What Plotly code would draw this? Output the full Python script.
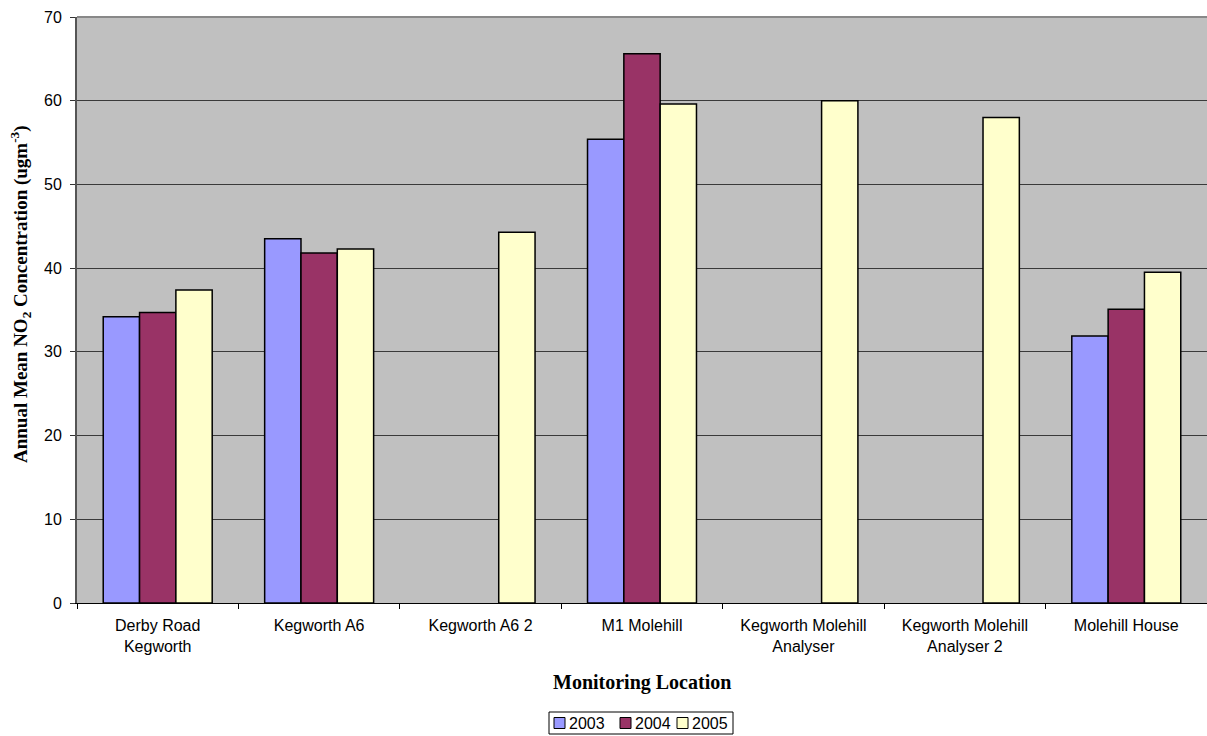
import plotly.graph_objects as go

locations = [
    "Derby Road<br>Kegworth",
    "Kegworth A6",
    "Kegworth A6 2",
    "M1 Molehill",
    "Kegworth Molehill<br>Analyser",
    "Kegworth Molehill<br>Analyser 2",
    "Molehill House",
]
no2_2003 = [34.2, 43.5, None, 55.4, None, None, 31.9]
no2_2004 = [34.7, 41.8, None, 65.6, None, None, 35.1]
no2_2005 = [37.4, 42.3, 44.3, 59.6, 60.0, 58.0, 39.5]
years = ["2003", "2004", "2005"]
colors = ["#9999FF", "#993366", "#FFFFCC"]
y_ticks = [0, 10, 20, 30, 40, 50, 60, 70]

W, H = 1207, 736
ML, MR, MT, MB = 77, 0, 17, 133
PW, PH = W - ML - MR, H - MT - MB


def px(x):
    # pixel column -> paper x
    return (x - ML) / PW


def py(y):
    # pixel row -> paper y
    return (H - MB - y) / PH


fig = go.Figure()
for name, vals, col in zip(years, [no2_2003, no2_2004, no2_2005], colors):
    fig.add_trace(go.Bar(
        x=locations, y=vals, name=name,
        marker=dict(color=col, line=dict(color="#000000", width=1.5)),
    ))

fig.update_layout(
    width=W, height=H,
    margin=dict(l=ML, r=MR, t=MT, b=MB),
    paper_bgcolor="white",
    plot_bgcolor="#C0C0C0",
    barmode="group",
    bargap=0.325,
    bargroupgap=0,
    font=dict(family="Arial, Liberation Sans", size=16, color="#000000"),
    showlegend=False,
)

fig.update_xaxes(
    showline=True, linecolor="#000000", linewidth=1,
    ticks="outside", ticklen=5, tickcolor="#000000",
    tickson="boundaries",
    showgrid=False,
    tickfont=dict(size=16),
    ticklabelstandoff=8,
)
fig.update_yaxes(
    range=[0, 70],
    tickvals=y_ticks,
    showline=True, linecolor="#555555", linewidth=2,
    ticks="outside", ticklen=5, tickcolor="#333333",
    showgrid=True, gridcolor="#3a3a3a", gridwidth=1,
    zeroline=False,
    tickfont=dict(size=16),
    ticklabelstandoff=5,
)

# top border of the plot area
fig.add_shape(type="line", xref="paper", yref="paper", x0=0, x1=1, y0=1, y1=1,
              line=dict(color="#888888", width=2))

fig.add_annotation(
    text="<b>Annual Mean NO<sub>2</sub> Concentration (ugm<sup>-3</sup>)</b>",
    xref="paper", yref="paper", x=px(20), y=py(294),
    xanchor="center", yanchor="middle",
    textangle=-90, showarrow=False,
    font=dict(family="Liberation Serif, Times New Roman", size=19),
)
fig.add_annotation(
    text="<b>Monitoring Location</b>",
    xref="paper", yref="paper", x=0.5, y=py(682),
    xanchor="center", yanchor="middle", showarrow=False,
    font=dict(family="Liberation Serif, Times New Roman", size=20),
)

# boxed legend below the axis title
fig.add_shape(type="rect", xref="paper", yref="paper",
              x0=px(549), x1=px(733), y0=py(712), y1=py(734),
              line=dict(color="#000000", width=1), fillcolor="white")
sq_left = [554, 620, 677]
for left, name, col in zip(sq_left, years, colors):
    fig.add_shape(type="rect", xref="paper", yref="paper",
                  x0=px(left), x1=px(left + 11), y0=py(717.5), y1=py(728.5),
                  line=dict(color="#000000", width=1), fillcolor=col)
    fig.add_annotation(
        text=name, xref="paper", yref="paper",
        x=px(left + 14), y=py(723), xanchor="left", yanchor="middle",
        showarrow=False, font=dict(size=16), borderpad=0,
    )

fig.write_html("out.html")
